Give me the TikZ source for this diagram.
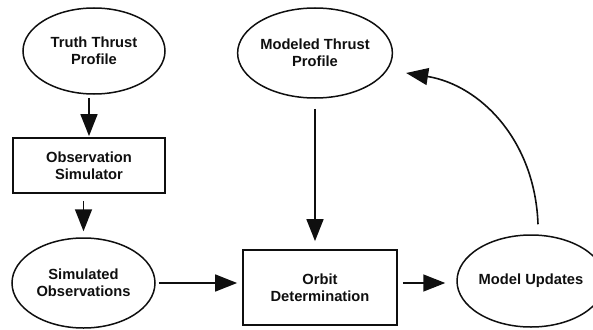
\documentclass[tikz,border=0pt]{standalone}
\usepackage{fontspec}
\setmainfont{Liberation Sans}
\usetikzlibrary{arrows.meta,shapes.geometric}
\definecolor{ink}{RGB}{15,15,15}
\tikzset{
  oval/.style={ellipse, draw=ink, line width=1.5pt, inner sep=0pt, align=center,
    text=ink, font=\bfseries\fontsize{14.7}{17}\selectfont},
  box/.style={rectangle, draw=ink, line width=1.8pt, inner sep=0pt, align=center,
    text=ink, font=\bfseries\fontsize{14.7}{17}\selectfont},
  arrow/.style={-{Triangle[length=22pt,width=17pt]}, line width=1.6pt, draw=ink}
}

\begin{document}
\begin{tikzpicture}[x=1pt,y=-1pt]
  \useasboundingbox (0,0) rectangle (593,329);
  \node[oval, minimum width=142pt, minimum height=86pt] (truth) at (94,51) {Truth Thrust\\Profile};
  \node[box, minimum width=152pt, minimum height=55pt] (obssim) at (89,165.5) {Observation\\Simulator};
  \node[oval, minimum width=143pt, minimum height=90pt] (simobs) at (83.5,283) {Simulated\\Observations};
  \node[box, minimum width=154pt, minimum height=75pt] (orbit) at (320,287.5) {Orbit\\Determination};
  \node[oval, minimum width=145pt, minimum height=90pt] (modeled) at (315,53) {Modeled Thrust\\Profile};
  \node[oval, minimum width=148pt, minimum height=92pt] (updates) at (531,281) {Model Updates};
  \draw[arrow, shorten <=3pt, shorten >=1pt] (obssim.north |- truth.south) -- (obssim.north);
  \draw[arrow, shorten <=7pt, shorten >=6pt] (simobs.north |- obssim.south) -- (simobs.north);
  \draw[arrow, shorten <=3pt, shorten >=5pt] (simobs.east) -- (simobs.east -| orbit.west);
  \draw[arrow, shorten <=10pt, shorten >=8pt] (modeled.south) -- (modeled.south |- orbit.north);
  \draw[arrow, shorten <=5pt, shorten >=11pt] (orbit.east |- simobs.east) -- (simobs.east -| updates.west);
  \draw[arrow] ([shift={(7,-10)}]updates.north) .. controls (535,140) and (480,85) .. ([shift={(13,20)}]modeled.east);
\end{tikzpicture}
\end{document}
